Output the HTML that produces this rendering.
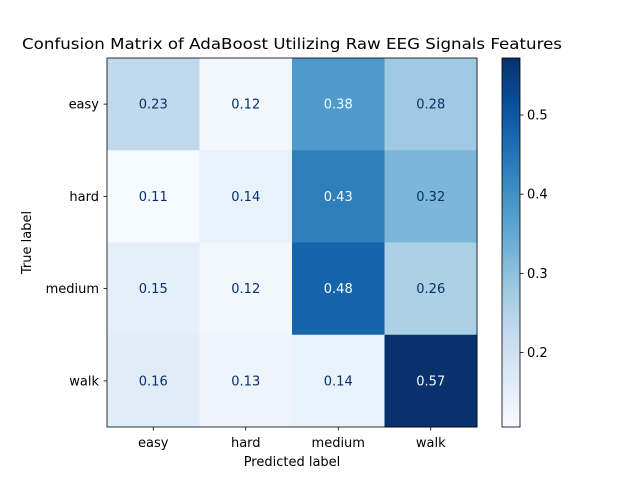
<!DOCTYPE html>
<html><head><meta charset="utf-8"><style>
body{margin:0;background:#fff;}
svg{display:block;font-family:"DejaVu Sans","Liberation Sans",sans-serif;}
</style></head><body>
<svg id="chart" width="640" height="480">
<text x="292" y="49" font-size="15.5" text-anchor="middle" textLength="540" lengthAdjust="spacingAndGlyphs">Confusion Matrix of AdaBoost Utilizing Raw EEG Signals Features</text>
<g id="cells"></g>
<g id="axes"></g>
<defs><linearGradient id="cbgrad" x1="0" y1="1" x2="0" y2="0"></linearGradient></defs>
<g id="cbar"></g>
</svg>
<script>
const classes=["easy","hard","medium","walk"];
const row_easy=[0.23,0.12,0.38,0.28];
const row_hard=[0.11,0.14,0.43,0.32];
const row_medium=[0.15,0.12,0.48,0.26];
const row_walk=[0.16,0.13,0.14,0.57];
const cbTicks=[0.2,0.3,0.4,0.5];
const matrix=[row_easy,row_hard,row_medium,row_walk];
const vmin=0.106, vmax=0.572;
const stops=["#f7fbff","#deebf7","#c6dbef","#9ecae1","#6baed6","#4292c6","#2171b5","#08519c","#08306b"];
function hex(h){return [1,3,5].map(i=>parseInt(h.substr(i,2),16));}
function blues(t){t=Math.max(0,Math.min(1,t));const p=t*8,i=Math.min(7,Math.floor(p)),f=p-i;const a=hex(stops[i]),b=hex(stops[i+1]);return "rgb("+a.map((v,k)=>Math.round(v+(b[k]-v)*f)).join(",")+")";}
const NS="http://www.w3.org/2000/svg";
function mk(tag,attrs,parent,text){const e=document.createElementNS(NS,tag);for(const k in attrs)e.setAttribute(k,attrs[k]);if(text!==undefined)e.textContent=text;parent.appendChild(e);return e;}
const L=107,T=58,W=370,H=369,n=classes.length,cw=W/n,ch=H/n;
const xC=j=>L+cw*(j+0.5), yC=i=>T+ch*(i+0.5);
const cells=document.getElementById("cells"),axes=document.getElementById("axes");
const thresh=(Math.max(...matrix.flat())+Math.min(...matrix.flat()))/2;
matrix.forEach((row,i)=>row.forEach((v,j)=>{
 const r=mk("rect",{x:L+cw*j,y:T+ch*i,width:cw+0.5,height:ch+0.5,fill:blues((v-vmin)/(vmax-vmin))},cells);
 
 
 const t=mk("text",{x:xC(j),y:yC(i)+4.5,"font-size":"13","text-anchor":"middle",fill:v>=thresh?"#f7fbff":"#08306b"},cells,v.toFixed(2));
 
 
}));
mk("rect",{x:L,y:T,width:W,height:H,fill:"none",stroke:"#000","stroke-width":0.8},axes);
classes.forEach((c,k)=>{
 mk("line",{x1:xC(k),x2:xC(k),y1:T+H,y2:T+H+3.5,stroke:"#000","stroke-width":0.8},axes);
 const tx=mk("text",{x:xC(k),y:T+H+20,"font-size":"13","text-anchor":"middle"},axes,c);
 
 
 mk("line",{x1:L-3.5,x2:L,y1:yC(k),y2:yC(k),stroke:"#000","stroke-width":0.8},axes);
 const ty=mk("text",{x:L-8,y:yC(k)+4.5,"font-size":"13","text-anchor":"end"},axes,c);
 
 
});
const xl=mk("text",{x:292,y:466,"font-size":"13","text-anchor":"middle"},axes,"Predicted label");


const yl=mk("text",{x:31,y:T+H/2,"font-size":"13","text-anchor":"middle",transform:"rotate(-90 31 "+(T+H/2)+")"},axes,"True label");


const g=document.getElementById("cbgrad");
stops.forEach((s,k)=>mk("stop",{offset:(k/8),"stop-color":s},g));
const cb=document.getElementById("cbar"),CX=502,CW=18;
const cy=v=>T+H-(v-vmin)/(vmax-vmin)*H;
const cr=mk("rect",{x:CX,y:T,width:CW,height:H,fill:"url(#cbgrad)",stroke:"#000","stroke-width":0.8},cb);


cbTicks.forEach(v=>{
 mk("line",{x1:CX+CW,x2:CX+CW+3.5,y1:cy(v),y2:cy(v),stroke:"#000","stroke-width":0.8},cb);
 const t=mk("text",{x:CX+CW+7,y:cy(v)+4.5,"font-size":"13"},cb,v.toFixed(1));
 
 
});
</script>
</body></html>
